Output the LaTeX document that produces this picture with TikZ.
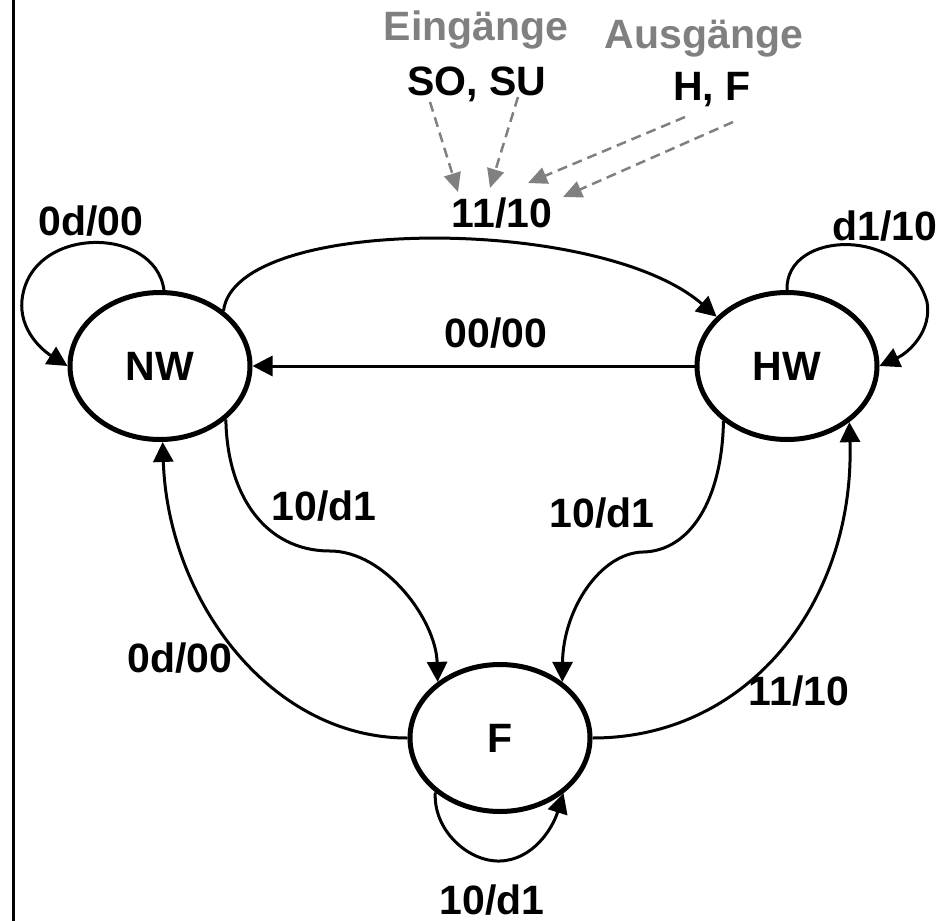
\documentclass[tikz,border=0pt]{standalone}
\usepackage{fontspec}
\setmainfont{Liberation Sans}
\usetikzlibrary{arrows.meta,shapes.geometric}
\definecolor{hintgray}{HTML}{808080}
\newcommand\lblfont{\bfseries\fontsize{41}{45}\selectfont}

\begin{document}
\begin{tikzpicture}[x=1pt,y=-1pt,
  state/.style={ellipse,draw,line width=5pt,minimum width=180pt,minimum height=147pt,
    inner sep=0pt,font=\lblfont},
  trans/.style={line width=3pt,-{Triangle[length=20pt,width=20pt]}},
  hint/.style={draw=hintgray,line width=2.5pt,dash pattern=on 10pt off 6pt,
    -{Triangle[length=19pt,width=17pt]}},
  lbl/.style={anchor=base,inner sep=0pt,font=\lblfont},
  hintlbl/.style={lbl,text=hintgray},
]
\useasboundingbox (0,0) rectangle (943,921);

% frame line on the left
\draw[line width=3.5pt] (13.5,0) -- (13.5,921);

% states
\node[state] (NW) at (160,366) {NW};
\node[state] (HW) at (787,366) {HW};
\node[state] (F)  at (500,738) {F};

% self loops
\draw[trans] (NW.87) .. controls (155,225) and (30,225) .. (22,300)
  .. controls (19,330) and (42,350) .. (NW.180);
\draw[trans] (HW.90) .. controls (785,230) and (905,225) .. (927,302)
  .. controls (932,330) and (910,352) .. (HW.0);
\draw[trans] (F.-140) .. controls (433,830) and (468,862) .. (500,861)
  .. controls (532,860) and (552,830) .. (F.-41);

% transitions between states
\draw[trans] (NW.41) .. controls (235,215) and (600,215) .. (HW.145);
\draw[trans] (HW.180) -- (NW.0);
\draw[trans] (NW.-39) .. controls (227,495) and (265,551) .. (330,551)
  .. controls (385,551) and (436,620) .. (F.138);
\draw[trans] (HW.-139) .. controls (722,500) and (690,551) .. (643,552)
  .. controls (600,553) and (563,610) .. (F.42);
\draw[trans] (F.180) .. controls (270,738) and (168,600) .. (NW.-88);
\draw[trans] (F.0) .. controls (750,738) and (855,600) .. (HW.-42);

% transition labels
\node[lbl] (lNWloop) at (91,235)  {0d/00};
\node[lbl] (lHWloop) at (885,240) {d1/10};
\node[lbl] (lFloop)  at (492,914) {10/d1};
\node[lbl] (lNWHW)   at (502,227) {11/10};
\node[lbl] (lHWNW)   at (496,347) {00/00};
\node[lbl] (lNWF)    at (324,520) {10/d1};
\node[lbl] (lHWF)    at (602,527) {10/d1};
\node[lbl] (lFNW)    at (180,672) {0d/00};
\node[lbl] (lFHW)    at (799,705) {11/10};

% legend: inputs and outputs
\node[hintlbl] (ein) at (476,40)  {Eingänge};
\node[lbl]     (inp) at (477,95)  {SO, SU};
\node[hintlbl] (aus) at (704,48)  {Ausgänge};
\node[lbl]     (outp) at (712,100) {H, F};

\coordinate (so) at (430,102);
\coordinate (su) at (518,97);
\coordinate (hh) at (685,117);
\coordinate (ff) at (733,122);
\coordinate (tso) at (458,192);
\coordinate (tsu) at (490,188);
\coordinate (th) at (528,183);
\coordinate (tf) at (563,197);

\draw[hint] (so) -- (tso);
\draw[hint] (su) -- (tsu);
\draw[hint] (hh) -- (th);
\draw[hint] (ff) -- (tf);
\end{tikzpicture}
\end{document}
